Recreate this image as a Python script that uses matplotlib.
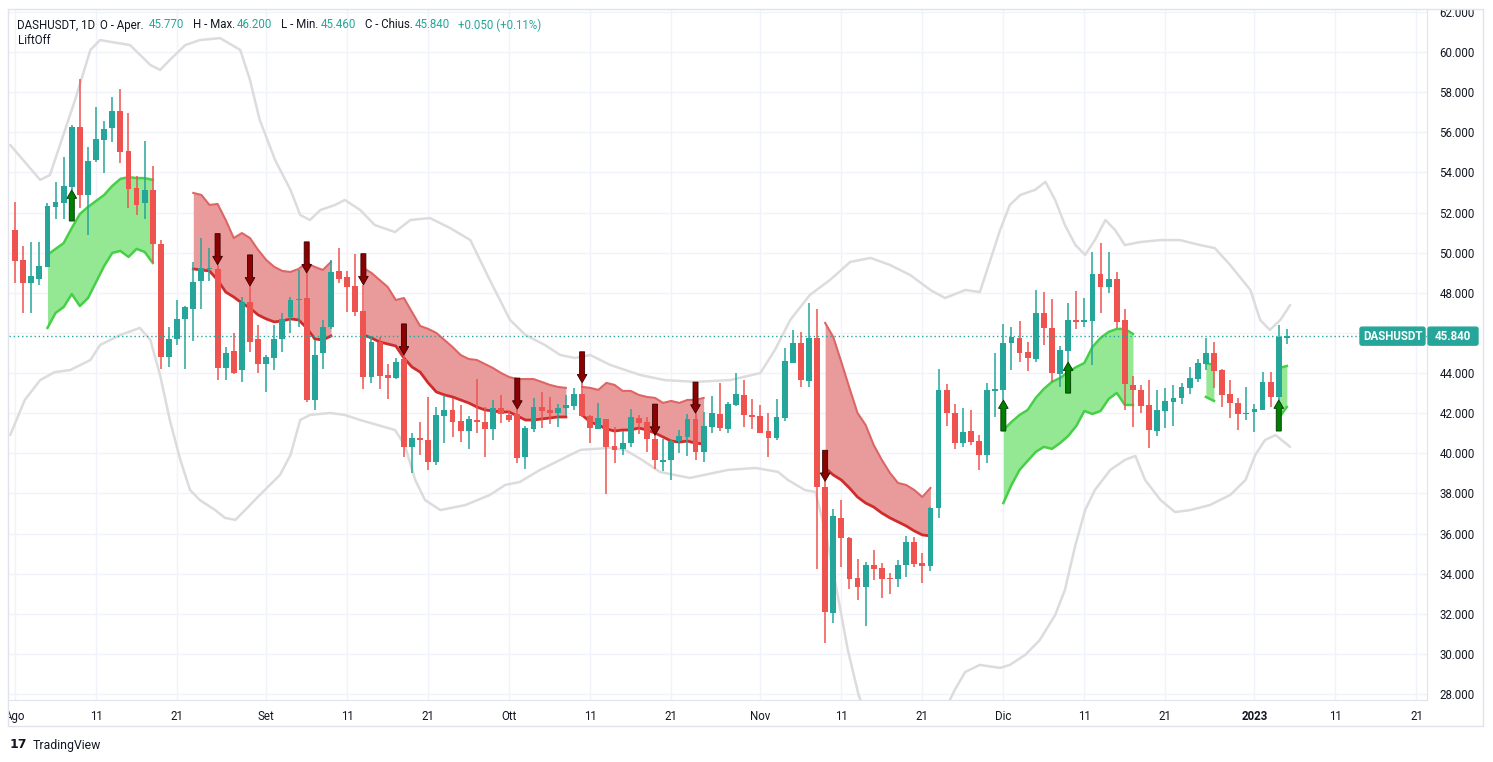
import numpy as np
import pandas as pd
import matplotlib
matplotlib.use("Agg")
import matplotlib.pyplot as plt
from matplotlib.patches import FancyArrow, FancyBboxPatch
from matplotlib.transforms import Bbox, TransformedBbox

plt.rcParams['font.family'] = ['Roboto', 'DejaVu Sans']

# ---- data (DASHUSDT daily, from 2022-08-01) ----
start = pd.Timestamp('2022-08-01')
opens = [51.13, 49.64, 48.49, 48.69, 49.29, 52.28, 52.48, 53.28, 56.27, 52.88,
         54.62, 55.62, 56.22, 57.06, 55.07, 53.23, 52.48, 53.13, 50.43, 44.80,
         45.70, 46.70, 47.19, 48.59, 49.17, 49.19, 44.25, 45.10, 44.15, 47.54,
         45.70, 44.45, 44.75, 45.70, 46.80, 47.62, 47.74, 42.66, 45.00, 46.30,
         49.09, 48.79, 48.34, 47.09, 43.80, 45.55, 43.90, 43.75, 44.70, 40.32,
         40.76, 40.66, 39.57, 41.86, 42.16, 41.61, 41.11, 41.66, 41.56, 41.21,
         42.26, 41.91, 41.96, 39.82, 41.21, 42.31, 42.16, 42.01, 42.26, 42.36,
         42.96, 41.86, 41.21, 41.71, 40.37, 40.21, 40.51, 41.76, 41.56, 40.71,
         39.57, 39.67, 40.61, 40.81, 41.71, 40.07, 41.31, 41.96, 41.21, 42.41,
         42.91, 41.91, 41.86, 41.11, 40.76, 41.76, 44.50, 45.50, 43.60, 45.75,
         38.32, 32.04, 36.78, 35.78, 33.78, 33.34, 34.43, 34.28, 33.78, 33.73,
         34.43, 35.58, 34.53, 34.38, 37.27, 43.16, 42.01, 40.51, 41.11, 40.61,
         39.92, 43.11, 43.16, 45.50, 45.75, 45.05, 44.70, 47.00, 46.25, 43.95,
         45.10, 46.65, 46.55, 46.60, 48.94, 48.29, 48.69, 46.65, 43.41, 43.16,
         42.41, 41.11, 42.11, 42.56, 42.76, 43.26, 43.70, 44.45, 45.00, 44.15,
         42.96, 42.51, 41.96, 42.06, 42.16, 43.56, 42.81, 45.77]
highs = [52.53, 50.33, 50.53, 50.53, 52.48, 53.53, 54.77, 56.37, 58.66, 55.27,
         57.26, 56.57, 57.76, 58.16, 56.97, 53.82, 55.57, 54.32, 50.63, 46.30,
         47.64, 47.35, 49.54, 50.73, 50.23, 49.40, 45.30, 46.00, 47.79, 48.34,
         46.40, 44.90, 46.40, 47.00, 47.79, 49.14, 48.99, 45.65, 46.65, 49.64,
         50.23, 49.09, 49.94, 48.40, 45.85, 45.80, 44.45, 44.75, 44.90, 41.01,
         41.56, 42.81, 42.31, 42.91, 42.76, 42.41, 41.86, 43.70, 42.31, 42.66,
         42.91, 42.16, 42.20, 41.36, 42.76, 43.06, 42.81, 42.46, 42.91, 43.26,
         43.51, 41.91, 42.51, 41.71, 41.31, 41.11, 42.21, 41.91, 41.81, 40.90,
         40.71, 40.71, 41.16, 41.96, 42.00, 42.06, 42.86, 43.51, 42.56, 44.00,
         43.65, 42.71, 42.41, 42.01, 42.71, 45.25, 46.15, 46.05, 47.49, 47.19,
         38.60, 37.22, 37.67, 35.85, 34.73, 34.58, 35.18, 34.53, 34.03, 34.68,
         35.88, 35.83, 35.03, 37.30, 44.20, 43.46, 42.46, 42.26, 42.16, 40.91,
         43.51, 45.00, 46.45, 46.30, 46.60, 45.55, 48.14, 48.04, 47.69, 45.35,
         47.49, 48.09, 47.74, 50.03, 50.48, 50.03, 49.04, 47.19, 43.85, 43.41,
         43.65, 43.16, 43.26, 43.41, 43.51, 44.30, 44.70, 45.75, 45.55, 44.20,
         43.65, 42.76, 43.31, 42.46, 44.05, 44.05, 46.40, 46.20]
lows = [48.49, 47.00, 47.00, 48.39, 49.29, 51.68, 51.68, 53.13, 52.23, 50.88,
        54.52, 53.97, 55.52, 54.47, 52.23, 51.88, 51.68, 49.49, 44.20, 44.30,
        45.40, 44.20, 45.60, 47.19, 48.59, 43.65, 43.65, 43.95, 43.56, 45.05,
        44.00, 43.06, 44.15, 45.05, 46.00, 46.30, 42.56, 42.16, 44.20, 46.20,
        48.49, 47.04, 46.85, 43.21, 43.51, 43.21, 42.71, 43.70, 39.82, 39.02,
        39.92, 39.17, 39.42, 40.51, 40.81, 40.56, 40.21, 41.01, 39.82, 40.66,
        41.51, 41.56, 39.52, 39.22, 41.06, 41.26, 41.46, 41.31, 41.86, 42.16,
        41.80, 40.51, 41.21, 37.97, 39.52, 39.92, 40.32, 40.96, 40.07, 39.22,
        39.12, 38.67, 40.02, 39.87, 39.67, 39.57, 41.01, 41.11, 41.01, 42.36,
        41.31, 41.21, 41.01, 39.82, 40.66, 41.61, 44.50, 43.31, 43.31, 34.23,
        30.55, 31.54, 34.33, 33.24, 32.69, 31.39, 33.68, 32.79, 32.99, 33.34,
        33.83, 34.33, 33.54, 34.13, 36.78, 41.36, 40.21, 40.32, 40.42, 39.17,
        39.52, 41.81, 42.66, 44.15, 44.55, 44.10, 44.55, 45.40, 43.56, 43.31,
        44.55, 46.20, 46.30, 44.40, 47.00, 47.99, 46.25, 42.16, 41.31, 42.01,
        40.27, 40.86, 41.26, 41.36, 42.46, 42.96, 43.56, 44.15, 43.26, 42.31,
        41.76, 41.16, 41.66, 41.06, 42.16, 42.31, 42.66, 45.46]
closes = [49.59, 48.49, 48.84, 49.34, 52.33, 52.53, 53.33, 56.27, 52.88, 54.57,
          55.67, 56.17, 57.06, 55.02, 53.18, 52.38, 53.13, 50.43, 44.80, 45.70,
          46.70, 47.29, 48.54, 49.24, 49.22, 44.25, 45.00, 44.00, 47.54, 45.55,
          44.45, 44.80, 45.70, 46.70, 47.64, 47.67, 42.66, 44.90, 46.30, 49.04,
          48.69, 48.29, 47.04, 43.80, 45.55, 43.85, 43.75, 44.55, 40.32, 40.76,
          40.66, 39.57, 41.91, 42.16, 41.56, 41.11, 41.71, 41.56, 41.21, 42.26,
          41.96, 41.66, 39.77, 41.26, 42.31, 42.11, 42.01, 42.26, 42.41, 42.96,
          41.86, 41.26, 41.76, 40.32, 40.17, 40.51, 41.81, 41.51, 40.71, 39.67,
          39.67, 40.61, 40.86, 41.71, 40.07, 41.36, 42.01, 41.26, 42.46, 42.96,
          41.91, 41.81, 41.01, 40.76, 41.81, 44.60, 45.50, 43.65, 45.75, 38.32,
          32.09, 36.88, 35.78, 33.73, 33.34, 34.43, 34.23, 33.73, 33.73, 34.43,
          35.58, 34.48, 34.38, 37.27, 43.16, 42.01, 40.51, 41.06, 40.56, 39.92,
          43.16, 43.21, 45.50, 45.80, 45.00, 44.75, 47.00, 46.25, 44.00, 45.15,
          46.65, 46.55, 46.65, 48.94, 48.29, 48.69, 46.55, 43.46, 43.16, 42.36,
          41.16, 42.16, 42.61, 42.76, 43.31, 43.75, 44.50, 45.00, 44.10, 42.91,
          42.51, 41.96, 42.01, 42.21, 43.56, 42.81, 45.79, 45.84]

# Bollinger-style envelope (day index, price)
bb_up_days = [-0.6, 3.1, 4.3, 7.4, 9.3, 10.5, 14.2, 16.7, 17.9, 19.1, 21.0, 22.8, 25.3,
              27.8, 29.0, 30.2, 32.1, 34.0, 35.2, 36.4, 37.7, 39.5, 40.7, 42.6, 44.4,
              46.9, 48.8, 51.2, 53.7, 56.2, 58.6, 61.1, 63.0, 65.4, 67.3, 69.1, 71.0,
              73.5, 77.2, 80.2, 84.0, 88.3, 92.0, 93.8, 95.7, 98.1, 100.6, 103.1,
              105.6, 108.0, 110.5, 113.0, 114.8, 117.3, 119.1, 120.4, 121.6, 122.8,
              124.1, 125.9, 127.2, 128.4, 129.6, 130.9, 132.1, 133.3, 134.6, 135.8,
              137.0, 138.9, 141.4, 143.8, 146.3, 148.1, 150.0, 152.5, 153.7, 154.9,
              156.2, 157.4]
bb_up = [55.37, 53.63, 53.87, 57.61, 60.11, 60.60, 60.35, 59.36, 59.11, 59.61, 60.35,
         60.60, 60.70, 60.11, 58.61, 56.62, 54.62, 53.13, 51.88, 51.63, 52.13, 52.38,
         52.63, 52.13, 51.38, 51.03, 51.63, 51.73, 51.23, 50.63, 48.64, 46.65, 45.90,
         45.40, 44.90, 44.75, 44.90, 44.40, 43.90, 43.65, 43.56, 43.65, 44.00, 45.15,
         46.65, 47.89, 48.64, 49.54, 49.74, 49.39, 48.89, 48.14, 47.74, 48.14, 48.04,
         49.64, 51.13, 52.38, 52.88, 53.13, 53.53, 52.63, 51.38, 50.38, 49.89, 50.63,
         51.63, 51.13, 50.38, 50.53, 50.63, 50.63, 50.38, 50.23, 49.39, 48.14, 46.65,
         46.15, 46.65, 47.39]
bb_lo_days = [-0.6, 1.2, 3.1, 4.9, 6.8, 9.3, 10.5, 13.0, 15.4, 16.7, 17.9, 19.1, 20.4,
              21.6, 22.8, 24.7, 25.9, 27.2, 28.4, 30.2, 32.7, 34.0, 35.2, 36.4, 38.9,
              40.7, 42.6, 46.9, 48.1, 49.4, 50.6, 52.5, 55.6, 58.6, 60.5, 62.3, 64.8,
              67.3, 69.8, 73.5, 75.3, 77.4, 79.6, 83.3, 88.0, 91.4, 94.2, 95.4, 97.5,
              98.8, 100.0, 101.2, 102.8, 104.1, 105.6, 109.3, 113.0, 116.0, 117.3,
              119.1, 121.6, 122.8, 124.7, 126.5, 128.4, 129.6, 130.9, 132.1, 133.3,
              135.2, 137.0, 138.3, 139.5, 141.4, 143.2, 145.1, 147.5, 150.0, 151.9,
              153.1, 154.3, 155.6, 157.4]
bb_lo = [40.91, 42.66, 43.65, 44.05, 44.15, 44.65, 45.40, 45.90, 46.25, 45.65, 43.90,
         41.66, 39.67, 38.17, 37.67, 37.17, 36.78, 36.68, 37.17, 37.92, 38.92, 39.92,
         41.66, 41.91, 42.01, 41.91, 41.66, 41.16, 40.41, 38.67, 37.67, 37.17, 37.42,
         37.92, 38.42, 38.57, 39.17, 39.67, 40.17, 40.27, 40.17, 39.67, 39.07, 38.77,
         39.17, 39.27, 39.07, 38.67, 38.17, 38.07, 36.18, 33.68, 30.20, 28.00, 26.20,
         24.70, 25.70, 28.20, 29.10, 29.45, 29.30, 29.45, 29.95, 30.69, 31.94, 33.19,
         35.43, 37.17, 38.17, 39.17, 39.67, 39.87, 38.67, 37.67, 37.07, 37.17, 37.42,
         37.92, 38.67, 39.92, 40.66, 40.91, 40.32]

# LiftOff bands: (first day index, upper edge, lower edge)
green_bands = [
    (4, [49.89, 50.19, 50.48, 51.23, 51.93, 52.28, 52.58, 52.88, 53.33, 53.68, 53.77, 53.72, 53.72, 53.63],
        [46.25, 47.00, 47.29, 47.94, 47.34, 47.74, 48.54, 49.34, 49.99, 50.09, 49.79, 50.19, 50.04, 49.49]),
    (122, [41.16, 41.56, 41.91, 42.16, 42.76, 43.21, 43.56, 43.75, 44.05, 44.30, 44.50, 45.30, 45.75, 46.05,
           46.20, 46.20, 45.95],
          [37.52, 38.42, 39.17, 39.62, 40.07, 40.32, 40.22, 40.51, 40.86, 41.36, 42.11, 41.96, 42.11, 42.71,
           43.01, 42.41, 42.41]),
    (147, [44.50, 44.40], [42.81, 42.61]),
    (156, [44.25, 44.35], [41.76, 42.31]),
]
red_bands = [
    (22, [52.98, 52.88, 52.38, 52.43, 51.63, 50.73, 50.98, 50.73, 50.14, 49.64, 49.29, 49.09, 49.04, 49.19,
          49.49, 49.29, 49.14, 49.54],
         [49.19, 49.14, 49.09, 48.64, 48.04, 47.79, 47.49, 47.24, 46.90, 46.70, 46.55, 46.60, 46.70, 46.65,
          46.25, 45.70, 45.65, 45.85]),
    (43, [49.24, 48.99, 48.64, 48.29, 47.64, 47.74, 47.04, 46.35, 46.20, 46.00, 45.65, 45.30, 44.90, 44.70,
          44.65, 44.45, 44.25, 44.00, 43.80, 43.70, 43.70, 43.70, 43.56, 43.41, 43.31, 43.26],
         [45.90, 45.75, 45.55, 45.45, 45.35, 44.75, 44.30, 44.05, 43.51, 43.06, 42.91, 42.81, 42.66, 42.51,
          42.31, 42.16, 42.11, 42.06, 42.06, 41.86, 41.66, 41.66, 41.71, 41.76, 41.81, 41.81]),
    (70, [43.31, 43.26, 43.16, 43.51, 43.41, 43.11, 43.11, 42.91, 42.81, 42.76, 42.51, 42.61, 42.51, 42.66,
          42.66, 42.76],
         [41.91, 41.56, 41.41, 41.21, 41.11, 41.16, 41.16, 41.26, 41.16, 41.01, 40.81, 40.61, 40.56, 40.61,
          40.51, 40.46]),
    (100, [46.50, 45.80, 44.55, 43.26, 42.01, 41.41, 40.41, 39.67, 39.02, 38.52, 38.42, 38.17, 37.82, 38.27],
          [39.27, 38.92, 38.67, 38.27, 37.82, 37.52, 37.32, 37.02, 36.78, 36.58, 36.38, 36.13, 35.93, 35.88]),
]
sell_days = [25, 29, 36, 43, 48, 62, 70, 79, 84, 100]
buy_days = [7, 122, 130, 156]

tick_dates = ['2022-08-01', '2022-08-11', '2022-08-21', '2022-09-01', '2022-09-11', '2022-09-21',
              '2022-10-01', '2022-10-11', '2022-10-21', '2022-11-01', '2022-11-11', '2022-11-21',
              '2022-12-01', '2022-12-11', '2022-12-21', '2023-01-01', '2023-01-11', '2023-01-21']
tick_labels = ['Ago', '11', '21', 'Set', '11', '21', 'Ott', '11', '21', 'Nov', '11', '21',
               'Dic', '11', '21', '2023', '11', '21']
price_ticks = list(range(28, 63, 2))

UP = '#26a69a'
DOWN = '#ef5350'
TXT = '#131722'
GRID = '#f0f3fa'
BORDER = '#e0e3eb'

W, H = 1493, 762
fig = plt.figure(figsize=(W / 100, H / 100), dpi=100)
fig.patch.set_facecolor('white')

def fx(x):
    return x / W

def fy(y):
    return 1 - y / H

ax = fig.add_axes([fx(9), fy(700), fx(1427 - 9), (700 - 9) / H])
ax.set_xlim(-0.75, 174.3)
ax.set_ylim(27.7, 62.15)

days = np.arange(len(closes))
o = np.array(opens); c = np.array(closes); hi = np.array(highs); lo = np.array(lows)

# grid
tick_pos = [(pd.Timestamp(d) - start).days for d in tick_dates]
for t in tick_pos:
    ax.axvline(t, color=GRID, lw=1, zorder=0)
for p in price_ticks:
    ax.axhline(p, color=GRID, lw=1, zorder=0)

# envelope
ax.plot(bb_up_days, bb_up, color='#dcdcdc', lw=1.8, zorder=1, solid_capstyle='round')
ax.plot(bb_lo_days, bb_lo, color='#dcdcdc', lw=1.8, zorder=1, solid_capstyle='round')

# LiftOff bands
for s, up, dn in green_bands:
    xs = np.arange(s, s + len(up))
    ax.fill_between(xs, dn, up, color='#94e894', lw=0, zorder=2)
    ax.plot(xs, up, color='#48cf48', lw=1.8, zorder=2.5)
    ax.plot(xs, dn, color='#48cf48', lw=1.8, zorder=2.5)
for s, up, dn in red_bands:
    xs = np.arange(s, s + len(up))
    ax.fill_between(xs, dn, up, color='#e99a9a', lw=0, zorder=2)
    ax.plot(xs, up, color='#de6565', lw=1.5, zorder=2.5)
    ax.plot(xs, dn, color='#d12c2c', lw=2.0, zorder=2.5)

# candles
cols = np.where(c >= o, UP, DOWN)
ax.vlines(days, lo, hi, colors=cols, lw=1.1, zorder=3)
body_lo = np.minimum(o, c)
body_h = np.maximum(np.abs(c - o), 0.06)
ax.bar(days, body_h, bottom=body_lo, width=0.72, color=cols, lw=0, zorder=3.5)

# signal arrows
alen = 1.55
for d in sell_days:
    ax.add_patch(FancyArrow(d, hi[d] + alen, 0, -alen, width=0.62, head_width=1.2,
                            head_length=0.42, length_includes_head=True,
                            fc='#8b0000', ec='#3a0000', lw=0.6, zorder=5))
for d in buy_days:
    ax.add_patch(FancyArrow(d, lo[d] - alen, 0, alen, width=0.62, head_width=1.2,
                            head_length=0.42, length_includes_head=True,
                            fc='#008000', ec='#003300', lw=0.6, zorder=5))

# last price line
last = closes[-1]
ax.axhline(last, color=UP, lw=1, ls=(0, (1, 2)), zorder=4)

# axes styling
for sp in ['top', 'left']:
    ax.spines[sp].set_visible(False)
ax.spines['right'].set_color(BORDER)
ax.spines['bottom'].set_color(BORDER)
ax.yaxis.tick_right()
ax.set_yticks(price_ticks)
ax.set_yticklabels([f'{p:.3f}' for p in price_ticks])
ax.set_xticks(tick_pos)
ax.set_xticklabels(tick_labels)
ax.tick_params(axis='y', length=0, pad=9, labelsize=8.3, labelcolor=TXT)
ax.tick_params(axis='x', length=0, pad=7, labelsize=8.3, labelcolor=TXT)
ax.get_xticklabels()[tick_labels.index('2023')].set_fontweight('bold')
# the last-price tag hides the nearby price label
for p, lab in zip(price_ticks, ax.get_yticklabels()):
    if abs(p - last) < 0.8:
        lab.set_visible(False)

clip = TransformedBbox(Bbox([[fx(9), fy(726)], [fx(1483), fy(9)]]), fig.transFigure)
for lab in ax.get_xticklabels() + ax.get_yticklabels():
    lab.set_clip_box(clip)
    lab.set_clip_on(True)

# chart border
fig.add_artist(plt.Line2D([fx(8), fx(1483), fx(1483), fx(8), fx(8)],
                          [fy(9), fy(9), fy(726), fy(726), fy(9)],
                          transform=fig.transFigure, color=BORDER, lw=1))

# price labels
fig.canvas.draw()
ly = ax.transData.transform((0, last))[1]
fig.add_artist(FancyBboxPatch((1428, ly - 9), 50, 18, boxstyle='round,pad=0,rounding_size=2',
                              transform=None, fc=UP, ec=UP))
fig.add_artist(FancyBboxPatch((1360, ly - 9), 65, 18, boxstyle='round,pad=0,rounding_size=2',
                              transform=None, fc=UP, ec=UP))
fig.text(fx(1453), ly / H, f'{last:.3f}', color='white', fontsize=8.3, fontweight='bold',
         ha='center', va='center')
fig.text(fx(1392.5), ly / H, 'DASHUSDT', color='white', fontsize=8.3, fontweight='bold',
         ha='center', va='center')

# header legend
chg = closes[-1] - closes[-2]
pct = chg / closes[-2] * 100
pieces = [(17, 'DASHUSDT, 1D', TXT), (100, 'O - Aper.', TXT), (149, f'{opens[-1]:.3f}', UP),
          (193, 'H - Max.', TXT), (237, f'{highs[-1]:.3f}', UP), (281, 'L - Min.', TXT),
          (321, f'{lows[-1]:.3f}', UP), (365, 'C - Chius.', TXT), (415, f'{closes[-1]:.3f}', UP),
          (458, f'{chg:+.3f} ({pct:+.2f}%)', UP)]
for x, s, col in pieces:
    fig.text(fx(x), fy(25), s, color=col, fontsize=8.3, ha='left', va='center')
fig.text(fx(18), fy(41), 'LiftOff', color=TXT, fontsize=8.3, ha='left', va='center')

# footer
fig.text(fx(10), fy(745), '17', color=TXT, fontsize=9, fontweight='heavy', ha='left', va='center',
         family='DejaVu Sans')
fig.text(fx(33), fy(745), 'TradingView', color=TXT, fontsize=8.8, ha='left', va='center')

fig.savefig('out.png', dpi=100, facecolor='white')
